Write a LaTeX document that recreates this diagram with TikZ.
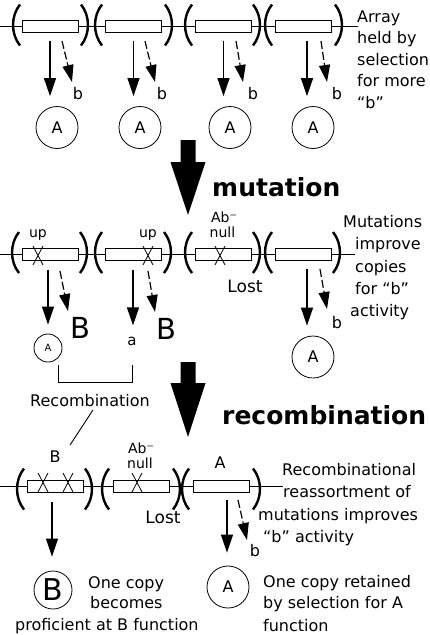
\documentclass[tikz,border=0pt]{standalone}
\usepackage{fontspec}
\setmainfont{DejaVu Sans}
\usetikzlibrary{arrows.meta,calc}
\newcommand\fsz[1]{\fontsize{#1}{#1}\selectfont}
\newcommand\myLP[2]{\draw[parenline] (#1+7,#2-20.5) .. controls (#1-2.3,#2-9) and (#1-2.3,#2+9) .. (#1+7,#2+20.5);}
\newcommand\myRP[2]{\draw[parenline] (#1-7,#2-20.5) .. controls (#1+2.3,#2-9) and (#1+2.3,#2+9) .. (#1-7,#2+20.5);}
\newcommand\myX[2]{\draw[xmark] (#1-5,#2-9.5) -- (#1+5,#2+9.5) (#1+5,#2-9.5) -- (#1-5,#2+9.5);}
\begin{document}
\begin{tikzpicture}[x=1pt,y=-1pt,
  copybox/.style={draw,line width=0.9pt,minimum width=56pt,minimum height=12pt,inner sep=0pt,fill=white},
  chrom/.style={line width=0.9pt},
  parenline/.style={line width=2.4pt},
  circ/.style={circle,draw,line width=0.8pt,inner sep=0pt,minimum size=42pt,font=\fsz{16}},
  smallcirc/.style={circle,draw,line width=0.8pt,inner sep=0pt,minimum size=28pt,font=\fsz{10}},
  txt/.style={inner sep=0pt,font=\fsz{16}},
  sm/.style={inner sep=0pt,font=\fsz{14}},
  bigB/.style={inner sep=0pt,font=\fsz{29}},
  title/.style={inner sep=0pt,font=\bfseries\fsz{25}},
  solidarr/.style={line width=1.2pt,-{Triangle[length=18pt,width=12pt]}},
  dasharr/.style={line width=1.2pt,dash pattern=on 8pt off 3pt,-{Triangle[length=17pt,width=11pt]}},
  xmark/.style={line width=0.8pt},
  plain/.style={line width=0.9pt},
]
\useasboundingbox (0,0) rectangle (430,635);

% ---------------- Row 1 ----------------
\coordinate (r1L) at (0,26.5); \coordinate (r1R) at (358,26.5);
\draw[chrom] (r1L) -- (r1R);
\node[copybox] (r1b1) at (50,26.5) {};
\node[copybox] (r1b2) at (133.5,26.5) {};
\node[copybox] (r1b3) at (223.5,26.5) {};
\node[copybox] (r1b4) at (303.5,26.5) {};
\myLP{13}{25}\myRP{88}{25}\myLP{95}{25}\myRP{172}{25}
\myLP{185}{25}\myRP{260}{25}\myLP{265}{25}\myRP{342}{25}
\node[circ] (r1c1) at (57,127.5) {A};
\node[circ] (r1c2) at (140,127.5) {A};
\node[circ] (r1c3) at (230,127.5) {A};
\node[circ] (r1c4) at (313,127.5) {A};
\draw[solidarr,shorten <=8pt,shorten >=10pt] (r1b1.south) -- (r1b1.south |- r1c1.north);
\draw[solidarr,shorten <=8pt,shorten >=10pt] (r1b2.south) -- (r1b2.south |- r1c2.north);
\draw[solidarr,shorten <=8pt,shorten >=10pt] (r1b3.south) -- (r1b3.south |- r1c3.north);
\draw[solidarr,shorten <=8pt,shorten >=10pt] ([xshift=3.5pt]r1b4.south) -- ([xshift=3.5pt]r1b4.south |- r1c4.north);
\node[txt,anchor=base] (r1l1) at (78,99) {b};
\node[txt,anchor=base] (r1l2) at (162,99) {b};
\node[txt,anchor=base] (r1l3) at (253,99) {b};
\node[txt,anchor=base] (r1l4) at (337,99) {b};
\coordinate (r1s1) at (62,41); \coordinate (r1e1) at (72,82);
\coordinate (r1s2) at (145,41); \coordinate (r1e2) at (155,82);
\coordinate (r1s3) at (236,41); \coordinate (r1e3) at (243,82);
\coordinate (r1s4) at (321,41); \coordinate (r1e4) at (327,82);
\draw[dasharr] (r1s1) -- (r1e1);
\draw[dasharr] (r1s2) -- (r1e2);
\draw[dasharr] (r1s3) -- (r1e3);
\draw[dasharr] (r1s4) -- (r1e4);
\node[txt,anchor=base west] (t1a) at (357,22) {Array};
\node[txt,anchor=base west] (t1b) at (357,43.5) {held by};
\node[txt,anchor=base west] (t1c) at (357,65) {selection};
\node[txt,anchor=base west] (t1d) at (357,86.5) {for more};
\node[txt,anchor=base west] (t1e) at (357,108) {“b”};

% ---------------- big arrow 1 ----------------
\fill (180.5,140) -- (195.5,140) -- (195.5,162) -- (205.5,162) -- (188,215) -- (170.5,162) -- (180.5,162) -- cycle;
\node[title,anchor=base west] (mut) at (212,196) {mutation};

% ---------------- Row 2 ----------------
\coordinate (r2L) at (0,254.5); \coordinate (r2R) at (355,254.5);
\draw[chrom] (r2L) -- (r2R);
\node[copybox] (r2b1) at (50,254.5) {};
\node[copybox] (r2b2) at (133.5,254.5) {};
\node[copybox] (r2b3) at (223.5,254.5) {};
\node[copybox] (r2b4) at (303.5,254.5) {};
\myLP{12}{252.5}\myRP{87}{252.5}\myLP{95}{252.5}\myRP{171}{252.5}
\myLP{185}{252.5}\myRP{260}{252.5}\myLP{265}{252.5}\myRP{340}{252.5}
\myX{38}{255.5}\myX{148}{255.5}\myX{220}{255.5}
\node[sm,anchor=base] (up1) at (38,237) {up};
\node[sm,anchor=base] (up2) at (148,237) {up};
\node[sm,anchor=base] (ab2) at (224,222) {Ab⁻};
\node[sm,anchor=base] (nl2) at (222.5,237) {null};
\node[txt,font=\fsz{17},anchor=base] (lost2) at (245,292) {Lost};
\node[smallcirc] (r2c1) at (48,348) {A};
\node[txt,font=\fsz{15},anchor=base] (r2a) at (132,345) {a};
\node[circ] (r2c4) at (313,357) {A};
\draw[solidarr,shorten <=9.5pt,shorten >=9pt] ([xshift=-2pt]r2b1.south) -- ([xshift=-2pt]r2b1.south |- r2c1.north);
\draw[solidarr,shorten <=9.5pt,shorten >=11pt] ([xshift=-0.5pt]r2b2.south) -- ([xshift=-0.5pt]r2b2.south |- r2a.north);
\draw[solidarr,shorten <=8pt,shorten >=10pt] ([xshift=3.5pt]r2b4.south) -- ([xshift=3.5pt]r2b4.south |- r2c4.north);
\node[bigB,anchor=base] (r2B1) at (80,338.5) {B};
\node[bigB,anchor=base] (r2B2) at (166,339) {B};
\node[txt,anchor=base] (r2l4) at (337,328) {b};
\coordinate (r2s1) at (60,271); \coordinate (r2e1) at (68,311);
\coordinate (r2s2) at (148,271); \coordinate (r2e2) at (155,312);
\coordinate (r2s4) at (320,269); \coordinate (r2e4) at (327,309);
\draw[dasharr] (r2s1) -- (r2e1);
\draw[dasharr] (r2s2) -- (r2e2);
\draw[dasharr] (r2s4) -- (r2e4);
\node[txt,anchor=base west] (t2a) at (343,227) {Mutations};
\node[txt,anchor=base west] (t2b) at (355,249) {improve};
\node[txt,anchor=base west] (t2c) at (355,272) {copies};
\node[txt,anchor=base west] (t2d) at (355,294) {for “b”};
\node[txt,anchor=base west] (t2e) at (350,316) {activity};
% bracket
\coordinate (br1) at (58,365); \coordinate (br2) at (132,365);
\draw[plain] (br1) -- (58,382) -- (132,382) -- (br2);
\node[txt,anchor=base] (rec) at (90,406.5) {Recombination};
\coordinate (rl1) at (93,410); \coordinate (rl2) at (70,445);
\draw[plain] (rl1) -- (rl2);

% ---------------- big arrow 2 ----------------
\fill (180.5,362) -- (195.5,362) -- (195.5,383) -- (205.5,383) -- (188,437) -- (170.5,383) -- (180.5,383) -- cycle;
\node[title,anchor=base west] (recomb) at (222,424) {recombination};

% ---------------- Row 3 ----------------
\coordinate (r3L) at (0,486); \coordinate (r3R) at (283,486);
\draw[chrom] (r3L) -- (r3R);
\node[copybox] (r3b1) at (55,486) {};
\node[copybox] (r3b2) at (141.5,486) {};
\node[copybox] (r3b3) at (221.5,486) {};
\myLP{17}{489}\myRP{92}{489}\myLP{102}{489}\myRP{180}{489}\myLP{182}{489}\myRP{260}{489}
\myX{43}{482.5}\myX{68}{482.5}\myX{137}{482.5}
\node[txt,anchor=base] (r3lB) at (55,462) {B};
\node[sm,anchor=base] (ab3) at (141,453) {Ab⁻};
\node[sm,anchor=base] (nl3) at (140,468) {null};
\node[txt,anchor=base] (r3lA) at (220,468) {A};
\node[txt,font=\fsz{17},anchor=base] (lost3) at (163,523) {Lost};
\node[circ,minimum size=38pt,font=\fsz{30}] (r3c1) at (53,590) {B};
\node[circ] (r3c3) at (228,587) {A};
\draw[solidarr,shorten <=10pt,shorten >=14pt] ([xshift=-3pt]r3b1.south) -- ([xshift=-3pt]r3b1.south |- r3c1.north);
\draw[solidarr,shorten <=8pt,shorten >=13pt] ([xshift=5.5pt]r3b3.south) -- ([xshift=5.5pt]r3b3.south |- r3c3.north);
\coordinate (r3s3) at (238,500); \coordinate (r3e3) at (247,540);
\draw[dasharr] (r3s3) -- (r3e3);
\node[txt,anchor=base] (r3l3) at (255,556) {b};
\node[txt,anchor=base west] (t3a) at (282,475) {Recombinational};
\node[txt,anchor=base west] (t3b) at (283,497) {reassortment of};
\node[txt,anchor=base west] (t3c) at (258,520) {mutations improves};
\node[txt,anchor=base west] (t3d) at (263,542) {“b” activity};
\node[txt,anchor=base west] (t4a) at (88,588) {One copy};
\node[txt,anchor=base west] (t4b) at (90,608) {becomes};
\node[txt,anchor=base west] (t4c) at (15,630) {proficient at B function};
\node[txt,anchor=base west] (t5a) at (263,587) {One copy retained};
\node[txt,anchor=base west] (t5b) at (263,608) {by selection for A};
\node[txt,anchor=base west] (t5c) at (263,631) {function};
\end{tikzpicture}
\end{document}
